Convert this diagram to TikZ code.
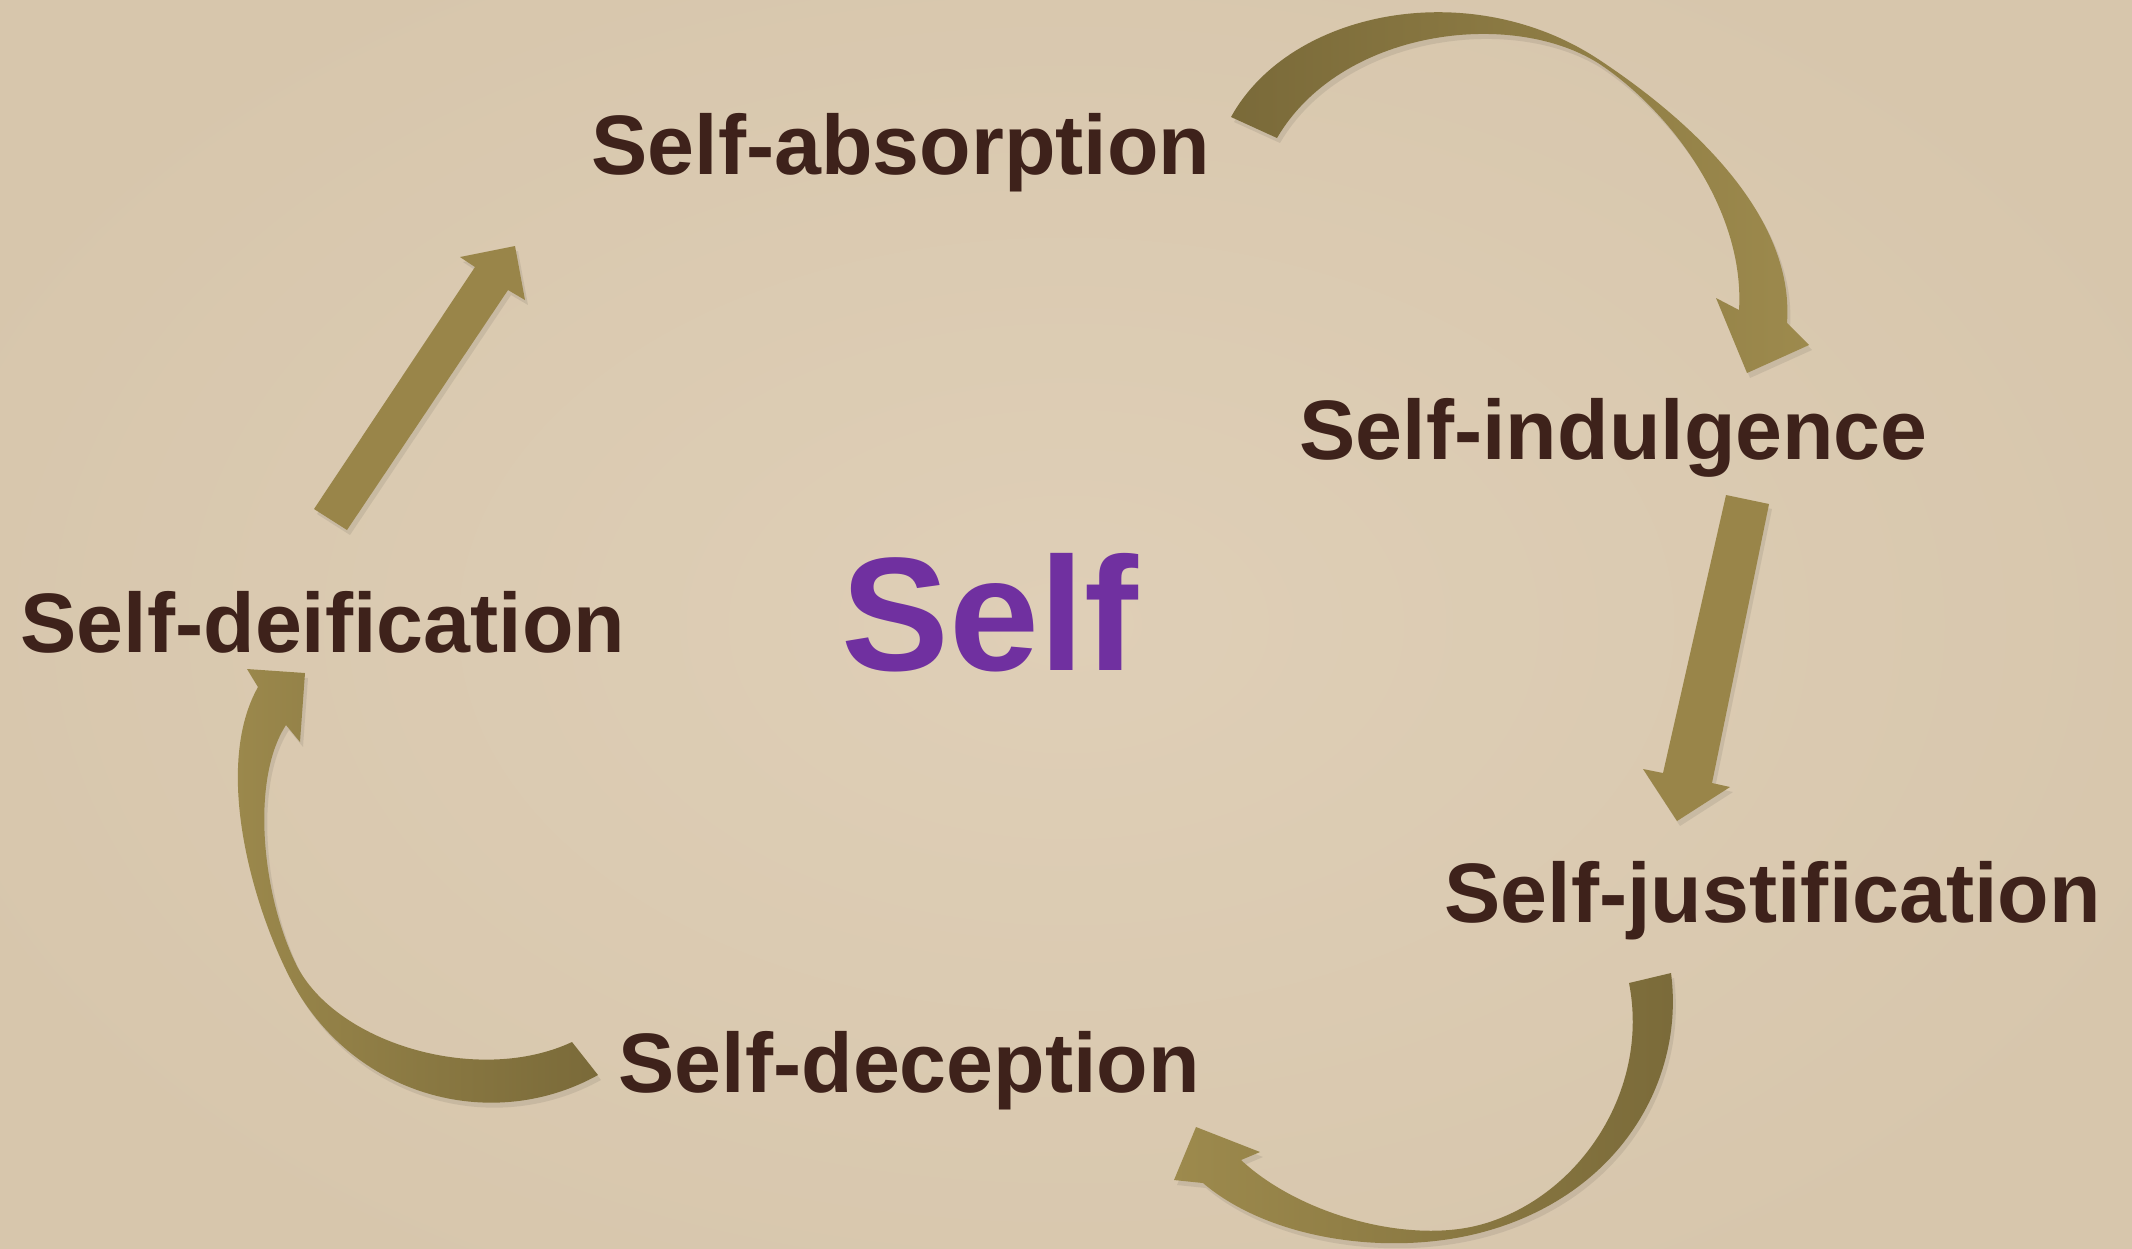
\documentclass[tikz,border=0pt]{standalone}
\usepackage{fontspec}
\setmainfont{Liberation Sans}[Ligatures=NoCommon]
\definecolor{paper}{RGB}{223,207,183}
\definecolor{paperedge}{RGB}{215,198,172}
\definecolor{inkbrown}{RGB}{62,34,27}
\definecolor{selfpurple}{RGB}{112,48,160}
\definecolor{olivedark}{RGB}{122,106,57}
\definecolor{olivelight}{RGB}{157,138,77}
\definecolor{olivemid}{RGB}{153,133,73}

% Block-arrow outlines (units: 0.1 mm, y pointing down)
\newcommand\pathAbsInd{(1231,117) .. controls (1290,10) and (1470,-25) .. (1598,59)
  .. controls (1680,113) and (1795,210) .. (1787,323)
  -- (1809,345) -- (1747,373) -- (1716,298) -- (1739,310)
  .. controls (1745,210) and (1670,110) .. (1598,63)
  .. controls (1510,8) and (1340,30) .. (1277,138) -- cycle}
\newcommand\pathIndJus{(1726,495) -- (1769,504) -- (1712,783) -- (1730,787) -- (1677,821) -- (1643,769) -- (1663,773) -- cycle}
\newcommand\pathJusDec{(1671,973) .. controls (1685,1080) and (1620,1195) .. (1483,1232)
  .. controls (1390,1257) and (1270,1240) .. (1203,1183)
  -- (1174,1180) -- (1196,1127) -- (1260,1152) -- (1241,1160)
  .. controls (1300,1215) and (1410,1245) .. (1483,1224)
  .. controls (1580,1196) and (1650,1090) .. (1629,983) -- cycle}
\newcommand\pathDecDei{(598,1075) .. controls (490,1135) and (350,1095) .. (290,978)
  .. controls (250,900) and (214,765) .. (258,687)
  -- (247,669) -- (305,673) -- (300,742) -- (286,725)
  .. controls (250,780) and (262,898) .. (298,968)
  .. controls (340,1045) and (480,1085) .. (572,1042) -- cycle}
\newcommand\pathDeiAbs{(314,509) -- (347,530) -- (508,290) -- (525,300) -- (515,246) -- (460,257) -- (475,267) -- cycle}

\begin{document}
\begin{tikzpicture}[x=0.1mm,y=-0.1mm,
  lbl/.style={font=\bfseries\fontsize{24}{28}\selectfont, text=inkbrown, inner sep=0pt, anchor=base west},
  centre/.style={font=\bfseries\fontsize{46}{52}\selectfont, text=selfpurple, inner sep=0pt, anchor=base west},
  arrowshadow/.style={fill=black, opacity=0.08},
  flatarrow/.style={fill=olivemid}]

\useasboundingbox (0,0) rectangle (2132,1248);

% paper background, slightly darker towards the edges
\begin{scope}
  \clip (0,0) rectangle (2132,1248);
  \shade[inner color=paper, outer color=paperedge] (-150,-150) rectangle (2282,1398);
\end{scope}

% soft shadows under the arrows
\begin{scope}[shift={(3,5)}]
  \fill[arrowshadow] \pathAbsInd;
  \fill[arrowshadow] \pathIndJus;
  \fill[arrowshadow] \pathJusDec;
  \fill[arrowshadow] \pathDecDei;
  \fill[arrowshadow] \pathDeiAbs;
\end{scope}

% arrows
\shade[left color=olivedark, right color=olivelight] \pathAbsInd;
\fill[flatarrow] \pathIndJus;
\shade[left color=olivelight, right color=olivedark] \pathJusDec;
\shade[left color=olivelight, right color=olivedark] \pathDecDei;
\fill[flatarrow] \pathDeiAbs;

% labels
\node[lbl] (absorption)    at (591,174)  {Self-absorption};
\node[lbl] (indulgence)    at (1299,459) {Self-indulgence};
\node[lbl] (deification)   at (20,652)   {Self-deification};
\node[lbl] (justification) at (1444,922) {Self-justification};
\node[lbl] (deception)     at (618,1092) {Self-deception};
\node[centre] (self)       at (841,670)  {Self};
\end{tikzpicture}
\end{document}
